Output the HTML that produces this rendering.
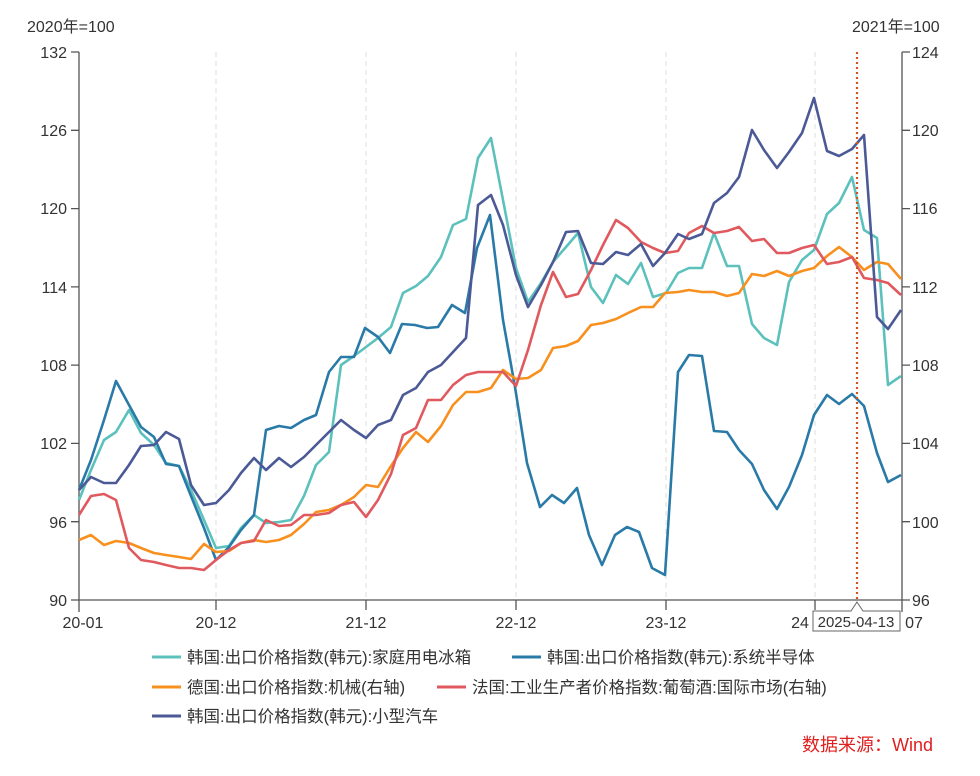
<!DOCTYPE html>
<html><head><meta charset="utf-8"><style>
body{margin:0;background:#fff}
svg text{font-family:"Liberation Sans","Noto Sans CJK SC",sans-serif;fill:#333}
</style></head><body>
<svg width="980" height="771" xmlns="http://www.w3.org/2000/svg">
<rect width="980" height="771" fill="#fff"/>
<g stroke="#ddd" stroke-dasharray="5,4" stroke-width="1">
<line x1="216" y1="52" x2="216" y2="600"/><line x1="366" y1="52" x2="366" y2="600"/>
<line x1="516" y1="52" x2="516" y2="600"/><line x1="666" y1="52" x2="666" y2="600"/>
<line x1="815" y1="52" x2="815" y2="600"/>
</g>
<g stroke="#555" stroke-width="1.3" fill="none">
<line x1="79" y1="52" x2="79" y2="612"/><line x1="902" y1="52" x2="902" y2="612"/>
<line x1="79" y1="600" x2="902" y2="600"/>
<path d="M71 52H79M71 130.3H79M71 208.6H79M71 286.9H79M71 365.1H79M71 443.4H79M71 521.7H79M71 600H79"/>
<path d="M902 52H910M902 130.3H910M902 208.6H910M902 286.9H910M902 365.1H910M902 443.4H910M902 521.7H910M902 600H910"/>
<path d="M216 600V610M366 600V610M516 600V610M666 600V610M815 600V610"/>
</g>
<g font-size="16" text-anchor="end">
<text x="67" y="58">132</text><text x="67" y="136">126</text><text x="67" y="214">120</text><text x="67" y="293">114</text><text x="67" y="371">108</text><text x="67" y="449">102</text><text x="67" y="528">96</text><text x="67" y="606">90</text>
</g>
<g font-size="16">
<text x="912" y="58">124</text><text x="912" y="136">120</text><text x="912" y="214">116</text><text x="912" y="293">112</text><text x="912" y="371">108</text><text x="912" y="449">104</text><text x="912" y="528">100</text><text x="912" y="606">96</text>
<text x="27" y="32">2020年=100</text><text x="852" y="32">2021年=100</text>
</g>
<g font-size="16" text-anchor="middle">
<text x="83" y="628">20-01</text><text x="216" y="628">20-12</text><text x="366" y="628">21-12</text><text x="516" y="628">22-12</text><text x="666" y="628">23-12</text><text x="800" y="628">24</text><text x="914" y="628">07</text>
</g>
<g fill="none" stroke-width="2.6" stroke-linejoin="round">
<polyline stroke="#5cc1bd" points="79,500 91,470 104,440 116,432 129,410 141,433 154,445 166,463 179,466 191,490 204,520 216,548 229,546 241,528 254,515 266,523 279,522 291,520 304,496 316,465 329,452 341,365 354,356 366,347 378,338 391,327 403,293 416,286 428,276 441,257 453,225 466,219 478,158 491,138 503,200 516,268 528,302 541,283 553,262 566,247 578,233 591,287 603,303 616,275 628,284 641,263 653,297 666,293 678,273 689,268 702,268 714,233 727,266 739,266 752,324 764,338 777,345 789,282 802,260 814,250 827,214 839,203 852,177 864,230 877,238 888,385 901,376"/>
<polyline stroke="#2a7aa8" points="79,490 91,460 104,420 116,381 129,405 141,427 154,437 166,464 179,466 191,496 204,528 216,560 229,547 241,530 254,515 266,430 279,426 291,428 304,420 316,415 329,372 341,357 354,357 365,328 378,337 390,353 402,324 415,325 427,328 438,327 452,305 465,313 477,248 490,215 503,320 515,387 527,463 540,507 552,495 564,503 577,488 589,535 602,565 615,535 627,527 639,532 652,568 665,575 678,372 689,355 702,356 714,431 727,432 739,450 752,464 764,490 777,509 789,487 802,455 814,415 827,395 839,404 852,394 864,406 877,453 888,482 901,475"/>
<polyline stroke="#f7901e" points="79,540 91,535 104,545 116,541 129,543 141,548 154,553 166,555 179,557 191,559 204,544 216,552 229,551 241,543 254,540 266,542 279,540 291,535 304,524 316,512 329,510 341,505 354,497 366,485 378,487 391,466 403,448 416,432 428,442 441,426 453,405 466,392 478,392 491,388 503,370 516,379 528,378 541,370 553,348 566,346 578,341 591,325 603,323 616,319 628,313 641,307 653,307 665,293 678,292 689,290 702,292 714,292 727,296 739,293 752,274 764,276 777,271 789,276 802,271 814,268 827,256 839,247 852,257 864,270 877,262 888,264 901,279"/>
<polyline stroke="#e0595e" points="79,515 91,496 104,494 116,500 129,548 141,560 154,562 166,565 179,568 191,568 204,570 216,560 229,550 241,543 254,541 266,520 279,526 291,525 304,515 316,515 329,513 341,505 354,502 366,517 378,500 391,474 403,435 416,428 428,400 441,400 453,385 466,375 478,372 491,372 503,372 516,386 528,350 541,305 553,272 566,297 578,294 591,270 603,245 616,220 628,228 641,242 653,248 665,253 678,251 689,233 702,226 714,233 727,231 739,227 752,241 764,239 777,253 789,253 802,248 814,245 827,264 839,262 852,257 864,278 877,280 888,283 901,295"/>
<polyline stroke="#4b5a96" points="79,490 91,477 104,483 116,483 129,465 141,446 154,445 166,432 179,439 191,485 204,505 216,503 229,490 241,473 254,458 266,470 279,458 291,467 304,457 316,445 329,432 341,420 354,430 366,438 378,425 391,420 403,395 416,388 428,372 441,365 453,352 466,338 478,205 491,195 503,225 516,275 528,307 541,285 553,262 566,232 578,231 591,263 603,264 616,252 628,255 641,244 653,266 665,253 678,234 689,239 702,234 714,203 727,193 739,177 752,130 764,150 777,168 789,152 802,133 814,98 827,151 839,156 852,149 864,135 877,317 888,329 901,310"/>
</g>
<line x1="857" y1="52" x2="857" y2="600" stroke="#d2541e" stroke-width="2.2" stroke-dasharray="2,3"/>
<path d="M813 611H851L857 602L863 611H900V631H813Z" fill="#fff" stroke="#666" stroke-width="1"/>
<text x="856" y="627" font-size="15" text-anchor="middle" fill="#555">2025-04-13</text>
<g stroke-width="3">
<line x1="152" y1="657" x2="181" y2="657" stroke="#5cc1bd"/>
<line x1="512" y1="657" x2="541" y2="657" stroke="#2a7aa8"/>
<line x1="152" y1="687" x2="181" y2="687" stroke="#f7901e"/>
<line x1="437" y1="687" x2="466" y2="687" stroke="#e0595e"/>
<line x1="152" y1="716" x2="181" y2="716" stroke="#4b5a96"/>
</g>
<g font-size="16.5">
<text x="187" y="663">韩国:出口价格指数(韩元):家庭用电冰箱</text>
<text x="547" y="663">韩国:出口价格指数(韩元):系统半导体</text>
<text x="187" y="693">德国:出口价格指数:机械(右轴)</text>
<text x="472" y="693">法国:工业生产者价格指数:葡萄酒:国际市场(右轴)</text>
<text x="187" y="722">韩国:出口价格指数(韩元):小型汽车</text>
<text x="802" y="751" style="fill:#e02020" font-size="18">数据来源：Wind</text>
</g>
</svg>
</body></html>
